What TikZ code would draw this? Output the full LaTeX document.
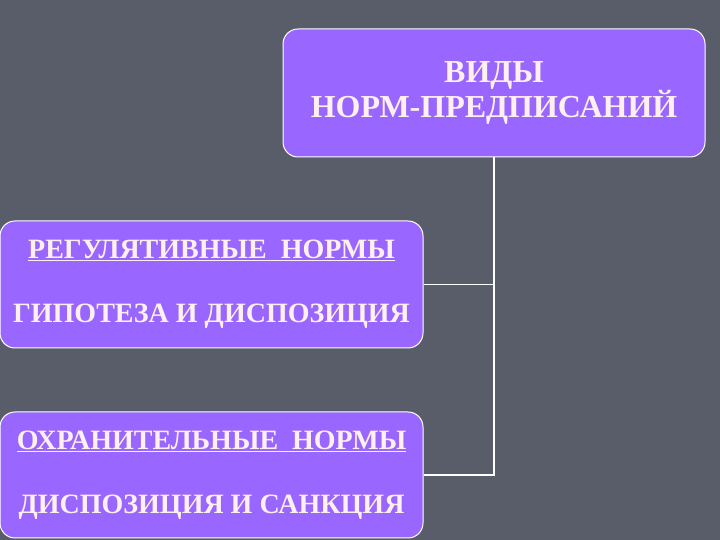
\documentclass[tikz,border=0pt]{standalone}
\usepackage{fontspec}
\setmainfont{Liberation Serif}
\usetikzlibrary{positioning}
\definecolor{SlideGray}{RGB}{89,93,105}
\definecolor{BoxViolet}{RGB}{153,102,255}
\definecolor{TextPale}{RGB}{255,240,240}

\begin{document}
\begin{tikzpicture}[
  x=1pt, y=1pt,
  every node/.style={align=center},
  normbox/.style args={#1, #2}{draw=white, line width=1pt, fill=BoxViolet, rounded corners=15pt,
    minimum width=#1, minimum height=#2, inner sep=0pt, text=TextPale},
  headtext/.style={font=\fontsize{32}{31}\selectfont\bfseries},
  bodytext/.style={font=\fontsize{28}{64}\selectfont\bfseries},
  link/.style={draw=white, line width=1.5pt}
  ]

% Background
\fill[SlideGray] (0,0) rectangle (720,540);
\useasboundingbox (0,0) rectangle (720,540);

% Top node
\node[normbox={422pt, 128pt}, headtext] (kinds) at (494,447) {
  ВИДЫ\\
  НОРМ-ПРЕДПИСАНИЙ
  };

% Regulative norms
\node[normbox={423pt, 127pt}, bodytext] (regul) at (211.5,255.5) {
  \underline{РЕГУЛЯТИВНЫЕ\ \ НОРМЫ}\\
  ГИПОТЕЗА И ДИСПОЗИЦИЯ
  };

% Protective norms
\node[normbox={423pt, 126pt}, bodytext] (protect) at (211.5,65) {
  \underline{ОХРАНИТЕЛЬНЫЕ\ \ НОРМЫ}\\
  ДИСПОЗИЦИЯ И САНКЦИЯ
  };

% Connectors
\draw[link] (kinds.south) |- (regul.east);
\draw[link] (kinds.south) |- (protect.east);
\end{tikzpicture}
\end{document}
